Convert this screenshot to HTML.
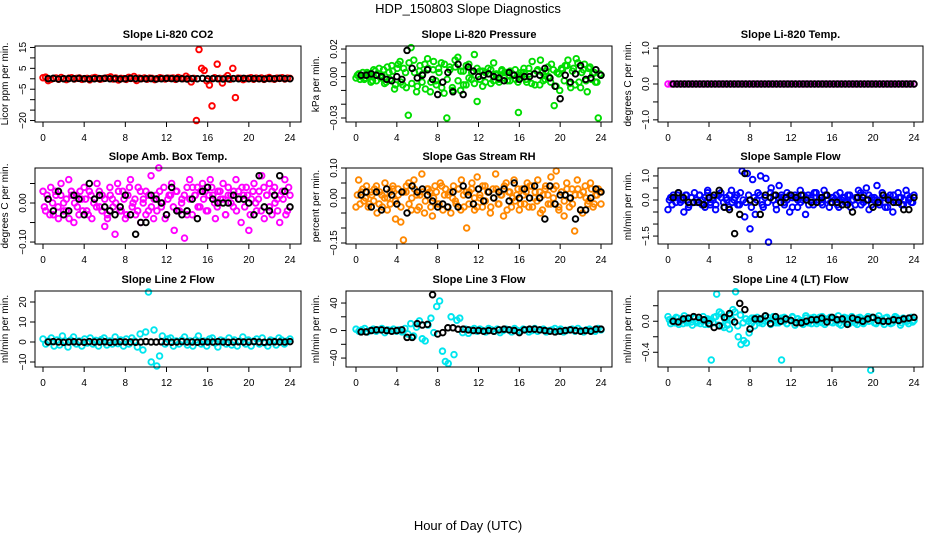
<!DOCTYPE html>
<html><head><meta charset="utf-8"><style>
html,body{margin:0;padding:0;background:#fff;}
svg{display:block;font-family:"Liberation Sans",sans-serif;}
</style></head><body>
<svg id="chart" width="936" height="540" viewBox="0 0 936 540">
<text x="468" y="13" text-anchor="middle" font-size="13">HDP_150803  Slope Diagnostics</text>
<text x="468" y="530" text-anchor="middle" font-size="13">Hour of Day (UTC)</text>
</svg>
<script>
const xTicks=[0,4,8,12,16,20,24];
const co2Col=[0.5,0.8,-0.9,-0.3,0.2,0.4,-0.2,0.6,0.1,-0.4,0.3,0.5,-0.1,0.2,0.4,-0.3,0.1,0.2,-0.5,0.3,0.6,0.2,-0.2,0.1,0.3,0.5,0.9,-0.1,0.4,-0.6,0.2,0.1,-0.3,0.7,0.2,1.1,-0.8,0.3,0.1,0.4,-0.2,0.3,0.2,-0.4,0.1,0.5,0.2,-0.1,0.3,0.2,0.4,-0.3,0.6,0.2,0.1,1.2,0.3,-1.5,0.2,-20,14,5,4,-1.0,-3,-13,0.5,7,0.2,-2,0.4,1.5,-0.2,5,-9,0.3,0.2,-0.4,0.1,0.2,0.5,-0.2,0.3,0.1,0.4,-0.3,0.2,0.6,0.1,-0.2,0.3,0.2,0.5,-0.1,0.3,0.2];
const co2Col2=[];
const co2Blk=[0.1,0.2,-0.1,0,0.1,0,0.2,0,-0.1,0,0.1,0.2,0,0.1,-0.1,0,0.2,0.1,0,0,0.1,-0.1,0,0.2,0.1,0,0,-0.1,0.1,0,0.2,0,0.1,0,-0.1,0,0.1,0,0.2,0,0.1,0,-0.1,0.1,0,0.2,0.1,0];
const pressCol=[-0.001,0.002,0.000,-0.002,0.003,0.001,-0.003,0.004,0.002,-0.001,0.005,-0.004,0.003,0.008,-0.009,0.006,0.011,-0.006,0.003,-0.028,0.021,0.012,-0.011,0.004,-0.004,0.009,0.013,-0.011,0.005,-0.003,0.006,0.010,-0.012,-0.030,0.007,-0.008,0.012,0.014,-0.010,0.004,-0.006,0.009,-0.002,0.016,-0.018,0.004,-0.007,0.003,0.006,-0.005,0.010,0.002,-0.004,0.005,0.003,-0.003,0.004,0.001,-0.002,-0.026,0.003,0.006,-0.004,0.002,0.011,-0.006,0.005,0.012,-0.003,0.004,0.000,0.009,-0.021,0.003,-0.010,0.005,0.008,0.012,-0.008,0.006,0.013,-0.004,0.003,0.009,-0.011,0.007,0.002,-0.004,-0.030,0.001];
const pressCol2=[0.001,-0.002,0.003,-0.001,0.002,-0.004,0.005,-0.003,0.006,0.001,-0.005,0.007,-0.002,0.004,-0.006,0.009,-0.004,0.006,-0.008,0.010,-0.005,0.003,-0.007,0.008,0.002,-0.009,0.006,-0.004,0.011,-0.006,0.003,-0.008,0.009,-0.002,0.005,-0.010,0.007,-0.003,0.004,-0.006,0.008,-0.001,0.003,-0.005,0.006,-0.002,0.004,-0.004,0.002,0.005,-0.003,0.001,-0.002,0.004,-0.001,0.003,-0.003,0.002,0.005,-0.004,0.001,0.003,-0.002,0.006,-0.005,0.002,0.004,-0.006,0.003,-0.002,0.007,-0.004,0.005,-0.007,0.002,0.006,-0.003,0.008,-0.005,0.004,-0.006,0.010,-0.008,0.005,-0.003,0.006,-0.002,0.003,-0.004,0.002];
const pressBlk=[0.001,0.001,0.002,0.001,0.000,-0.002,-0.003,0.000,-0.002,0.019,0.006,-0.001,0.001,0.005,-0.002,-0.013,-0.004,0.003,-0.011,0.009,-0.013,0.007,0.004,0.000,0.001,0.002,0.000,-0.001,-0.003,0.003,0.001,-0.002,0.000,0.000,0.002,0.001,0.006,-0.001,-0.007,-0.016,0.001,-0.004,0.002,0.008,-0.002,-0.001,0.005,0.001];
const tempCol=[0,0,0,0,0,0,0,0,0,0,0,0,0,0,0,0,0,0,0,0,0,0,0,0,0,0,0,0,0,0,0,0,0,0,0,0,0,0,0,0,0,0,0,0,0,0,0,0,0,0,0,0,0,0,0,0,0,0,0,0,0,0,0,0,0,0,0,0,0,0,0,0,0,0,0,0,0,0,0,0];
const tempCol2=[];
const tempBlk=[0,0,0,0,0,0,0,0,0,0,0,0,0,0,0,0,0,0,0,0,0,0,0,0,0,0,0,0,0,0,0,0,0,0,0,0,0,0,0,0,0,0,0,0,0,0,0,0,0,0,0,0,0,0,0,0,0,0,0,0,0,0,0,0];
const ambCol=[0.03,-0.02,0.01,0.04,-0.03,0.02,-0.04,0.05,0.00,-0.02,0.06,0.03,-0.05,0.02,-0.03,0.01,0.04,-0.02,0.03,-0.04,0.01,0.05,-0.01,0.02,-0.06,-0.03,0.04,0.01,-0.08,0.05,-0.02,0.03,-0.04,0.02,0.06,0.00,-0.03,0.04,-0.05,0.01,0.03,-0.02,0.07,-0.04,0.02,0.09,-0.01,0.04,-0.03,0.02,0.05,-0.07,0.03,-0.02,0.01,-0.09,0.04,0.06,-0.03,0.02,0.04,-0.01,0.05,0.03,-0.02,0.06,0.02,-0.04,0.03,0.01,0.05,-0.03,0.04,0.02,-0.01,0.06,0.03,-0.05,0.02,0.04,-0.07,0.01,0.05,-0.02,0.03,0.07,-0.04,0.02,0.05,-0.03,0.04,0.01,-0.05,0.03,0.06,-0.02,0.02];
const ambCol2=[-0.01,0.02,-0.03,0.00,0.03,-0.01,0.02,-0.02,0.01,-0.04,0.02,0.00,-0.01,0.03,-0.02,0.01,-0.03,0.02,0.00,-0.01,0.03,-0.02,0.01,-0.04,0.02,-0.01,0.00,0.03,-0.02,0.01,-0.03,0.04,-0.01,0.01,-0.02,0.03,0.00,-0.03,0.02,-0.01,0.01,-0.02,0.03,0.00,-0.04,0.01,0.02,-0.01,0.03,-0.02,0.00,0.02,-0.03,0.01,0.04,0.02,-0.01,0.03,0.01,-0.02,0.02,0.04,0.00,-0.01,0.03,0.01,-0.03,0.02,0.00,0.03,-0.02,0.01,0.04,-0.01,0.02,-0.03,0.03,0.00,0.01,-0.02,0.04,0.02,-0.01,0.03,0.00,-0.02,0.02,0.01,-0.03,0.04];
const ambBlk=[0.01,-0.02,0.03,-0.03,-0.02,0.02,0.01,-0.03,0.05,0.01,0.02,-0.01,-0.02,-0.03,-0.01,0.02,-0.03,-0.08,-0.05,-0.05,0.02,0.01,0.0,-0.03,0.04,-0.02,-0.03,-0.02,0.01,-0.04,0.03,0.04,0.01,0.0,0.0,0.0,0.02,0.01,0.01,0.0,-0.03,0.07,-0.01,-0.02,0.02,0.07,0.03,-0.01];
const rhCol=[-0.03,0.06,0.02,-0.01,0.04,-0.02,0.01,0.03,-0.05,0.02,-0.03,0.05,0.00,-0.02,0.04,-0.07,0.03,-0.08,-0.14,0.02,0.05,-0.04,0.06,0.01,-0.03,0.08,-0.05,0.03,0.02,-0.06,0.04,-0.02,0.05,-0.04,0.03,0.01,-0.05,0.04,-0.02,0.03,0.06,-0.03,-0.10,0.02,0.05,-0.04,0.07,0.00,-0.03,0.04,0.02,-0.05,0.03,0.08,-0.02,0.01,-0.06,0.05,0.02,-0.03,0.06,0.01,-0.04,0.03,-0.02,0.05,0.04,-0.03,0.02,0.06,-0.05,0.01,0.04,-0.02,0.07,0.03,0.09,-0.04,0.02,-0.06,0.05,-0.03,0.03,-0.11,0.06,0.01,-0.05,0.04,-0.02,0.05,-0.03,0.01,0.03,-0.02];
const rhCol2=[0.01,-0.02,0.03,0.00,-0.03,0.02,-0.01,0.04,-0.02,0.01,0.00,-0.04,0.02,0.03,-0.01,0.01,-0.03,0.02,0.04,-0.02,0.00,0.03,-0.04,0.01,0.02,-0.01,0.03,-0.03,0.00,0.02,-0.02,0.04,0.01,-0.03,0.02,0.00,-0.01,0.03,-0.04,0.01,0.02,-0.02,0.03,0.00,-0.03,0.01,0.04,-0.01,0.02,-0.03,0.00,0.03,-0.02,0.01,0.04,-0.04,0.02,0.00,-0.01,0.03,-0.02,0.01,0.02,-0.03,0.04,0.00,-0.01,0.02,-0.04,0.03,0.01,-0.02,0.00,0.04,-0.03,0.02,-0.01,0.03,0.00,-0.02,0.01,0.03,-0.04,0.02,0.00,-0.01,0.03,-0.02,0.01,0.02];
const rhBlk=[0.01,0.02,-0.03,0.02,-0.04,0.03,0.01,-0.02,0.02,-0.05,0.04,0.02,0.03,0.01,-0.01,-0.03,-0.02,-0.03,0.02,-0.03,0.04,0.01,-0.02,0.03,-0.01,0.02,0.0,0.02,0.03,-0.01,0.05,0.0,0.03,0.0,0.04,0.0,-0.07,0.04,-0.02,0.01,0.01,0.0,-0.07,-0.04,-0.04,0.0,0.03,0.02];
const sampleCol=[-0.4,0.1,0.2,-0.1,0.3,0.0,-0.5,0.2,-0.2,0.1,0.3,-0.1,0.2,0.0,-0.3,0.4,-0.2,0.1,-0.4,0.2,0.3,-0.1,0.1,-0.3,0.4,0.0,0.2,-0.2,1.2,-0.7,1.1,-1.2,0.85,-0.6,0.3,1.0,-0.3,0.9,-1.75,0.5,0.2,-0.4,0.6,0.1,-0.2,0.3,-0.5,0.1,0.2,-0.3,0.4,0.0,-0.6,0.2,0.1,-0.2,0.3,0.0,-0.1,0.4,0.2,-0.3,0.1,0.0,-0.2,0.3,0.1,-0.1,0.2,-0.3,0.0,0.1,0.4,-0.2,0.2,0.5,-0.4,0.1,0.0,0.6,-0.2,0.3,0.1,-0.3,0.2,-0.5,0.0,0.3,0.1,-0.2,0.4,0.0,-0.1,0.2];
const sampleCol2=[0.0,-0.2,0.1,0.2,-0.1,0.0,0.2,-0.3,0.1,-0.1,0.0,0.2,-0.2,0.1,0.3,-0.1,0.0,-0.2,0.2,0.1,-0.3,0.0,0.2,-0.1,0.1,-0.2,0.3,0.0,-0.1,0.2,-0.3,0.1,0.0,0.2,-0.2,0.1,-0.1,0.3,0.0,-0.2,0.1,0.2,-0.1,0.0,0.2,-0.3,0.1,0.0,-0.1,0.2,0.1,-0.2,0.0,0.3,-0.1,0.1,-0.2,0.2,0.0,-0.1,0.1,0.2,-0.3,0.0,0.1,-0.1,0.2,0.0,-0.2,0.1,0.3,-0.1,0.0,0.2,-0.2,0.1,0.0,-0.1,0.2,-0.3,0.1,0.0,0.2,-0.1,0.1,-0.2,0.0,0.2,0.1,-0.1];
const sampleBlk=[0.1,0.3,0.1,-0.1,-0.1,-0.1,-0.2,0.1,0.2,0.4,-0.3,-0.4,-1.4,-0.6,1.1,0.0,-0.1,-0.6,0.2,0.1,0.2,-0.1,0.1,0.2,0.1,0.2,0.0,-0.1,-0.1,0.1,0.2,-0.1,-0.1,-0.2,-0.2,-0.5,0.1,0.1,0.0,-0.3,-0.1,0.2,0.0,-0.1,-0.1,-0.4,-0.4,0.1];
const line2Col=[1.5,-1,0.5,2,-2,1,-1.5,3,0.5,-2.5,1,2.5,-1,0.5,-2,1.5,-0.5,2,-1,0.8,-2,1.2,2,-1.5,0.5,-1,2.5,-0.8,1,-2,1.5,-1,2,0.5,-2.5,4,-4,5,25,-10,6,-12,-7,3,-1,1.5,2,-2,0.5,-1,1,2.5,-1.5,0.5,-2,1,3,-1,0.5,-2,1.5,2,-0.5,-2.5,1,0.5,-1,2,-1.5,1,-2,0.5,2.5,-1,1,-2,0.5,1.5,-1,2,-0.5,-2,1,0.5,-1.5,2,1,-1,0.5,1.5];
const line2Col2=[];
const line2Blk=[0,0.2,0,-0.2,0,0.1,0,-0.1,0.2,0,0,0.1,-0.2,0,0.1,0,0,-0.1,0,0.2,0,0,0.1,0,-0.1,0,0.2,0,0,-0.1,0.1,0,0,0.2,0,-0.1,0,0.1,0,0,0.2,0,-0.1,0,0.1,0,0,0.2];
const line3Col=[2,-1,1,3,-2,0,2,-1,1,3,-3,1,0,2,-1,1,-2,3,-5,10,-8,5,14,-12,-15,8,18,-3,35,43,-30,-45,-48,20,-35,15,18,-3,2,-4,1,3,-1,2,0,-2,3,1,-1,2,-3,0,2,1,-2,3,0,-1,2,1,-2,0,3,-1,1,2,-2,0,1,3,-1,2,-2,0,1,2,-1,3,0,-2,1,2,0,-1,3,1];
const line3Col2=[];
const line3Blk=[-2,-2,0,1,1,0,-1,0,1,-10,-10,10,8,9,52,-5,-3,4,4,2,2,1,0,0,-1,0,-1,1,2,1,0,-3,1,2,2,1,0,-1,-2,-1,0,1,0,-1,0,-1,2,2];
const line4Col=[0.06,-0.03,0.02,0.05,-0.04,0.01,0.07,-0.02,0.03,-0.05,0.04,0.00,-0.03,0.06,0.02,-0.04,-0.5,0.05,0.35,0.12,-0.06,0.03,-0.05,0.08,0.15,0.38,-0.2,-0.3,-0.25,-0.28,-0.15,0.04,-0.06,0.05,0.02,-0.03,0.07,0.01,-0.04,0.06,-0.02,0.03,-0.5,0.05,-0.03,0.02,0.06,-0.05,0.03,0.01,-0.04,0.07,-0.02,0.04,0.05,-0.03,0.02,0.06,-0.04,0.01,0.05,-0.02,0.03,0.07,-0.05,0.02,0.04,-0.03,0.06,0.01,-0.04,0.05,-0.02,0.03,0.06,-0.63,0.04,-0.03,0.07,0.02,-0.04,0.05,0.01,-0.02,0.06,0.03,-0.05,0.04,0.02,-0.03,0.05,0.01];
const line4Col2=[0.02,0.00,-0.02,0.04,0.01,-0.03,0.03,0.00,-0.01,0.05,-0.02,0.02,0.00,-0.04,0.03,0.01,-0.02,0.06,-0.05,0.10,-0.08,0.04,-0.10,0.02,0.12,-0.06,0.08,-0.02,0.03,0.00,-0.03,0.04,0.01,-0.02,0.03,0.00,0.05,-0.03,0.02,0.01,-0.02,0.04,0.00,-0.03,0.02,0.05,-0.01,0.03,0.00,-0.02,0.04,0.01,-0.03,0.02,0.00,0.05,-0.02,0.03,0.01,-0.01,0.04,0.00,-0.03,0.02,0.05,-0.01,0.03,0.00,-0.02,0.04,0.01,-0.03,0.02,0.00,0.05,-0.02,0.03,0.01,-0.01,0.04,0.00,-0.03,0.02,0.05,0.01,-0.02,0.03,0.00,0.04,-0.01];
const line4Blk=[0.0,-0.01,0.03,0.04,0.06,0.05,0.02,-0.03,-0.08,-0.06,0.05,0.1,-0.01,0.23,0.15,-0.1,0.03,0.03,0.07,-0.03,0.06,0.0,0.03,0.01,-0.02,-0.02,0.0,0.02,0.02,0.04,-0.01,0.05,0.02,0.03,-0.04,0.04,0.02,0.0,0.03,0.05,0.01,0.0,0.0,0.02,0.01,0.03,0.04,0.05];

const panels=[
 {name:'co2',title:'Slope Li-820 CO2',ylab:'Licor ppm per min.',col:0,row:0,dom:[-20.7,15.7],ticks:[15,10,5,0,-5,-10,-15,-20],labs:['15','','5','','\u22125','','','\u221220'],color:'#ff0000',c:co2Col,c2:co2Col2,b:co2Blk},
 {name:'pressure',title:'Slope Li-820 Pressure',ylab:'kPa per min.',col:1,row:0,dom:[-0.0329,0.0222],ticks:[0.02,0.01,0,-0.01,-0.02,-0.03],labs:['0.02','','0.00','','','\u22120.03'],color:'#00dd00',c:pressCol,c2:pressCol2,b:pressBlk},
 {name:'li820-temp',title:'Slope Li-820 Temp.',ylab:'degrees C per min.',col:2,row:0,dom:[-1.06,1.06],ticks:[1,0.5,0,-0.5,-1],labs:['1.0','','0.0','','\u22121.0'],color:'#ff00ff',c:tempCol,c2:tempCol2,b:tempBlk},
 {name:'amb-box-temp',title:'Slope Amb. Box Temp.',ylab:'degrees C per min.',col:0,row:1,dom:[-0.105,0.0897],ticks:[0.05,0,-0.05,-0.1],labs:['','0.00','','\u22120.10'],color:'#ff00ff',c:ambCol,c2:ambCol2,b:ambBlk},
 {name:'gas-stream-rh',title:'Slope Gas Stream RH',ylab:'percent per min.',col:1,row:1,dom:[-0.1533,0.1],ticks:[0.1,0.05,0,-0.05,-0.1,-0.15],labs:['0.10','','0.00','','','\u22120.15'],color:'#ff8800',c:rhCol,c2:rhCol2,b:rhBlk},
 {name:'sample-flow',title:'Slope Sample Flow',ylab:'ml/min per min.',col:2,row:1,dom:[-1.83,1.33],ticks:[1,0.5,0,-0.5,-1,-1.5],labs:['1.0','','0.0','','','\u22121.5'],color:'#0000ff',c:sampleCol,c2:sampleCol2,b:sampleBlk},
 {name:'line2-flow',title:'Slope Line 2 Flow',ylab:'ml/min per min.',col:0,row:2,dom:[-12.5,25.5],ticks:[20,10,0,-10],labs:['20','10','0','\u221210'],color:'#00e5ee',c:line2Col,c2:line2Col2,b:line2Blk},
 {name:'line3-flow',title:'Slope Line 3 Flow',ylab:'ml/min per min.',col:1,row:2,dom:[-53,57.5],ticks:[40,20,0,-20,-40],labs:['40','','0','','\u221240'],color:'#00e5ee',c:line3Col,c2:line3Col2,b:line3Blk},
 {name:'line4-flow',title:'Slope Line 4 (LT) Flow',ylab:'ml/min per min.',col:2,row:2,dom:[-0.59,0.39],ticks:[0.2,0,-0.2,-0.4],labs:['','0.0','','\u22120.4'],color:'#00e5ee',c:line4Col,c2:line4Col2,b:line4Blk}
];
const boxL=[35,346,658], boxR=[301,612,923], x0=[43,356,668], x24=[290,601,914];
const boxT=[46,168,291], boxH=76;
const NS='http://www.w3.org/2000/svg';
const svg=document.getElementById('chart');
function mk(tag,attrs,parent){const e=document.createElementNS(NS,tag);for(const k in attrs)e.setAttribute(k,attrs[k]);(parent||svg).appendChild(e);return e;}
panels.forEach(p=>{
 const L=boxL[p.col],R=boxR[p.col],T=boxT[p.row],B=T+boxH;
 const xs=h=>x0[p.col]+(x24[p.col]-x0[p.col])*h/24;
 const ys=v=>B-(v-p.dom[0])/(p.dom[1]-p.dom[0])*boxH;
 const g=mk('g',{});
 
 
 const t=mk('text',{x:(L+R)/2,y:T-8,'text-anchor':'middle','font-size':11,'font-weight':'bold'},g);
 t.textContent=p.title;
 
 
 const cx=L-27,cy=(T+B)/2;
 const yl=mk('text',{x:cx,y:cy,'text-anchor':'middle','font-size':10,transform:`rotate(-90 ${cx} ${cy})`},g);
 yl.textContent=p.ylab;
 
 
 const pg=mk('g',{fill:'none','stroke-width':1.9},g);
 
 
 p.c2.forEach((v,i)=>{
  const h=(i+0.5)*24/p.c2.length;
  const c=mk('circle',{cx:xs(h),cy:ys(v),r:2.8,stroke:p.color},pg);
  
  
 });
 p.c.forEach((v,i)=>{
  const h=i*24/(p.c.length-1);
  const c=mk('circle',{cx:xs(h),cy:ys(v),r:2.8,stroke:p.color},pg);
  
  
 });
 const bg=mk('g',{fill:'none','stroke-width':1.9},g);
 
 
 p.b.forEach((v,i)=>{
  const h=0.5+i*23.5/(p.b.length-1);
  const c=mk('circle',{cx:xs(h),cy:ys(v),r:2.8,stroke:'#000'},bg);
  
  
 });
 const box=mk('rect',{x:L,y:T,width:R-L,height:boxH,fill:'none',stroke:'#000','stroke-width':1},g);
 
 
 const xa=mk('g',{stroke:'#000','stroke-width':1},g);
 
 
 mk('line',{x1:xs(0),x2:xs(24),y1:B,y2:B},xa);
 xTicks.forEach(h=>{
  mk('line',{x1:xs(h),x2:xs(h),y1:B,y2:B+5},xa);
  const tl=mk('text',{x:xs(h),y:B+19,'text-anchor':'middle','font-size':10,stroke:'none',fill:'#000'},xa);
  tl.textContent=h;
  
  
 });
 const ya=mk('g',{stroke:'#000','stroke-width':1},g);
 
 
 mk('line',{x1:L,x2:L,y1:ys(p.ticks[0]),y2:ys(p.ticks[p.ticks.length-1])},ya);
 p.ticks.forEach((v,i)=>{
  const y=ys(v);
  mk('line',{x1:L-5,x2:L,y1:y,y2:y},ya);
  if(p.labs[i]){
   const tx=L-9;
   const tl=mk('text',{x:tx,y:y,'text-anchor':'middle','font-size':10,stroke:'none',fill:'#000',transform:`rotate(-90 ${tx} ${y})`},ya);
   tl.textContent=p.labs[i];
   
   
  }
 });
});
</script>
</body></html>
